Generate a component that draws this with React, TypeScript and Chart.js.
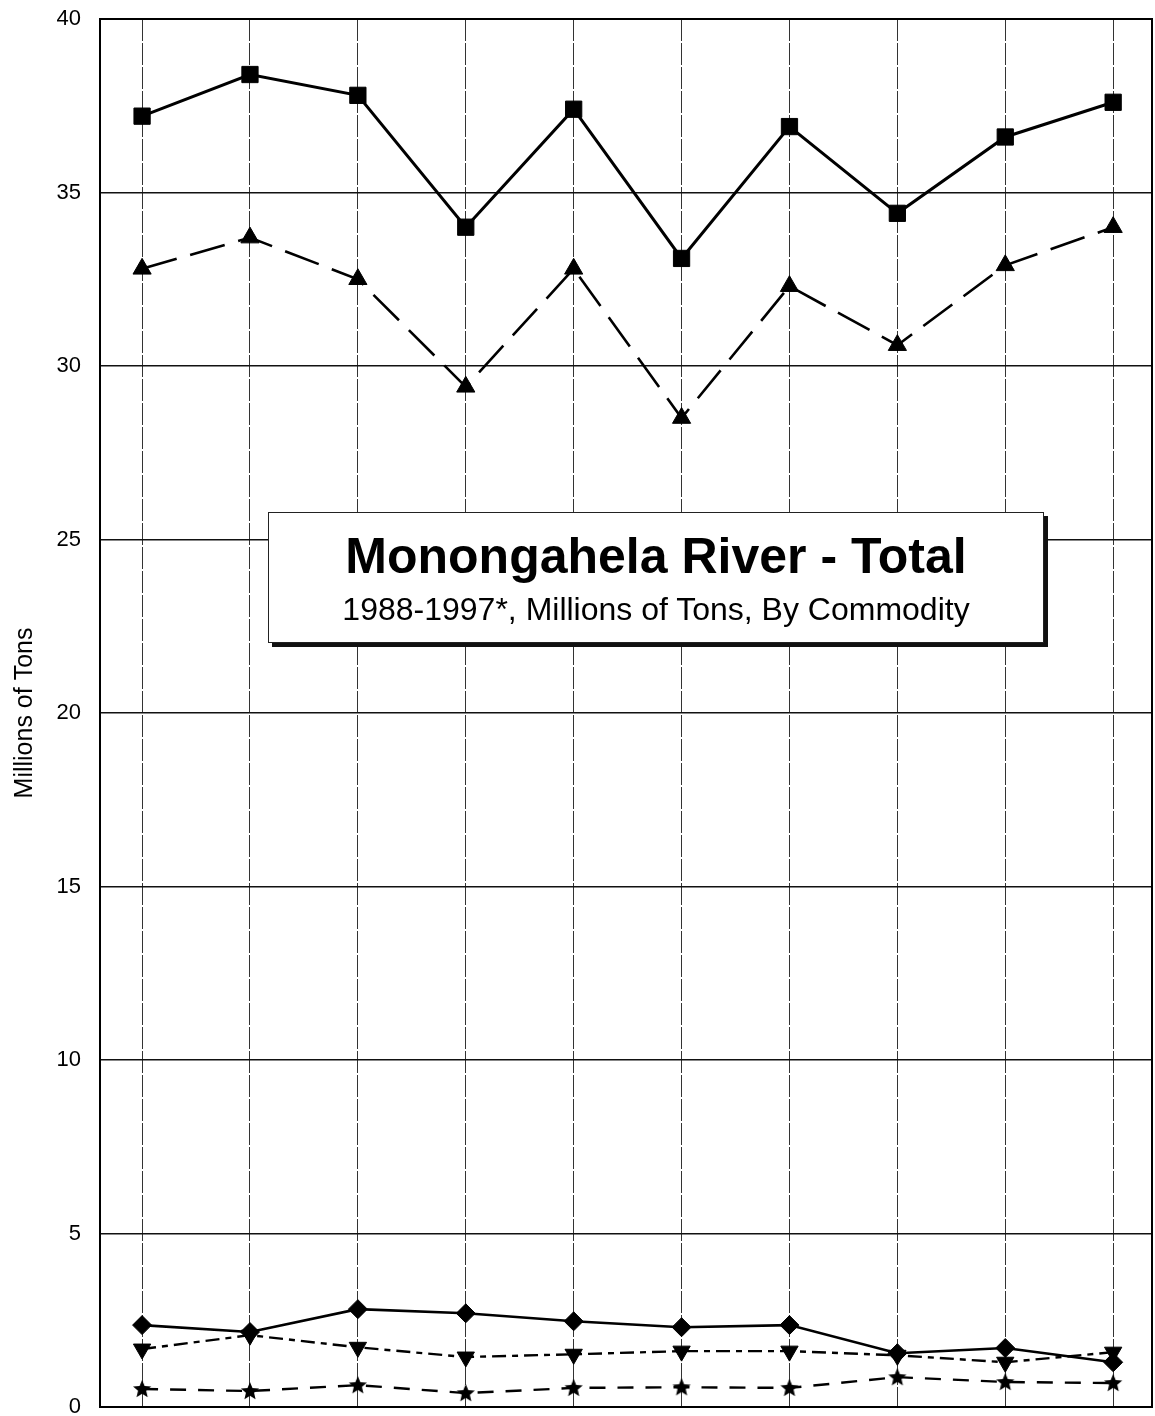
import React, { useEffect, useRef } from "react";
import { Chart, registerables } from "chart.js";

Chart.register(...registerables);

// ---- data ----
const years = [1988, 1989, 1990, 1991, 1992, 1993, 1994, 1995, 1996, 1997];
const totalTons = [37.2, 38.4, 37.8, 34.0, 37.4, 33.1, 36.9, 34.4, 36.6, 37.6];
const coalTons = [32.8, 33.7, 32.5, 29.4, 32.8, 28.5, 32.3, 30.6, 32.9, 34.0];
const commodityATons = [2.36, 2.16, 2.82, 2.7, 2.47, 2.3, 2.36, 1.55, 1.7, 1.29];
const commodityBTons = [1.67, 2.07, 1.72, 1.44, 1.52, 1.61, 1.61, 1.49, 1.29, 1.58];
const commodityCTons = [0.52, 0.46, 0.63, 0.4, 0.55, 0.57, 0.55, 0.86, 0.72, 0.69];
const yTickValues = [0, 5, 10, 15, 20, 25, 30, 35, 40];

const chartTitle = "Monongahela River - Total";
const chartSubtitle = "1988-1997*, Millions of Tons, By Commodity";
const yAxisTitle = "Millions of Tons";

const FONT = "'Liberation Sans', Arial, Helvetica, sans-serif";

function makeStar(size: number): HTMLCanvasElement {
  const c = document.createElement("canvas");
  c.width = size;
  c.height = size;
  const ctx = c.getContext("2d")!;
  const cx = size / 2;
  const cy = size / 2 + 0.5;
  const R = size / 2 - 0.5;
  const r = R * 0.45;
  ctx.beginPath();
  for (let i = 0; i < 10; i++) {
    const rad = i % 2 === 0 ? R : r;
    const a = -Math.PI / 2 + (i * Math.PI) / 5;
    const px = cx + rad * Math.cos(a);
    const py = cy + rad * Math.sin(a);
    if (i === 0) ctx.moveTo(px, py);
    else ctx.lineTo(px, py);
  }
  ctx.closePath();
  ctx.fillStyle = "#000";
  ctx.fill();
  return c;
}

const toPoints = (vals: number[]) => years.map((y, i) => ({ x: y, y: vals[i] }));

const framePlugin = {
  id: "frame",
  beforeDatasetsDraw(chart: any) {
    const { ctx, chartArea } = chart;
    ctx.save();
    ctx.strokeStyle = "#000";
    ctx.lineWidth = 2;
    ctx.strokeRect(chartArea.left, chartArea.top, chartArea.right - chartArea.left, chartArea.bottom - chartArea.top);
    ctx.restore();
  },
};

export default function App() {
  const canvasRef = useRef<HTMLCanvasElement | null>(null);

  useEffect(() => {
    document.body.style.margin = "0";
    const canvas = canvasRef.current;
    if (!canvas) return;
    const star = makeStar(20);
    const chart = new Chart(canvas, {
      type: "line",
      data: {
        datasets: [
          {
            label: "Total",
            data: toPoints(totalTons),
            borderColor: "#000",
            backgroundColor: "#000",
            borderWidth: 3,
            pointStyle: "rect",
            pointRadius: 11.5,
            pointBorderWidth: 1,
            pointBackgroundColor: "#000",
            pointBorderColor: "#000",
          },
          {
            label: "Coal",
            data: toPoints(coalTons),
            borderColor: "#000",
            backgroundColor: "#000",
            borderWidth: 2.6,
            borderDash: [36, 14],
            pointStyle: "triangle",
            pointRadius: 10.5,
            pointBorderWidth: 1,
            pointBackgroundColor: "#000",
            pointBorderColor: "#000",
          },
          {
            label: "Commodity A",
            data: toPoints(commodityATons),
            borderColor: "#000",
            backgroundColor: "#000",
            borderWidth: 2.6,
            pointStyle: "rectRot",
            pointRadius: 9.5,
            pointBorderWidth: 1,
            pointBackgroundColor: "#000",
            pointBorderColor: "#000",
          },
          {
            label: "Commodity B",
            data: toPoints(commodityBTons),
            borderColor: "#000",
            backgroundColor: "#000",
            borderWidth: 2.4,
            borderDash: [14, 6, 6, 6],
            pointStyle: "triangle",
            pointRotation: 180,
            pointRadius: 10,
            pointBorderWidth: 1,
            pointBackgroundColor: "#000",
            pointBorderColor: "#000",
          },
          {
            label: "Commodity C",
            data: toPoints(commodityCTons),
            borderColor: "#000",
            backgroundColor: "#000",
            borderWidth: 2.4,
            borderDash: [16, 12],
            pointStyle: star as any,
            pointRadius: 10,
          },
        ] as any,
      },
      options: {
        responsive: false,
        animation: false,
        devicePixelRatio: 1,
        layout: { autoPadding: false, padding: { top: 19, right: 3, bottom: 9, left: 0 } },
        plugins: {
          legend: { display: false },
          tooltip: { enabled: false },
          title: { display: false },
        },
        elements: { line: { tension: 0 } },
        scales: {
          x: {
            type: "linear",
            min: years[0] - 0.39,
            max: years[years.length - 1] + 0.36,
            afterBuildTicks: (axis: any) => {
              axis.ticks = years.map((v) => ({ value: v }));
            },
            afterFit: (s: any) => {
              s.height = 0;
              s.paddingLeft = 0;
              s.paddingRight = 0;
            },
            ticks: { display: false },
            grid: { color: "#333", lineWidth: 1, drawTicks: false },
            border: { display: false, dash: [22, 2] },
          },
          y: {
            type: "linear",
            min: 0,
            max: 40,
            afterBuildTicks: (axis: any) => {
              axis.ticks = yTickValues.map((v) => ({ value: v }));
            },
            afterFit: (s: any) => {
              s.width = 100;
              s.paddingTop = 0;
              s.paddingBottom = 0;
            },
            ticks: {
              color: "#000",
              font: { family: FONT, size: 22 },
              padding: 19,
            },
            grid: { color: "#111", lineWidth: 1.5, drawTicks: false },
            border: { display: false },
            title: {
              display: true,
              text: yAxisTitle,
              color: "#000",
              font: { family: FONT, size: 25 },
              padding: { top: 10, bottom: 0 },
            },
          },
        },
      } as any,
      plugins: [framePlugin],
    });
    return () => chart.destroy();
  }, []);

  return (
    <div style={{ position: "relative", width: 1155, height: 1416, background: "#fff" }}>
      <canvas ref={canvasRef} width={1155} height={1416} style={{ display: "block" }} />
      <div
        style={{
          position: "absolute",
          left: 268,
          top: 512,
          width: 776,
          height: 131,
          boxSizing: "border-box",
          border: "1.5px solid #222",
          background: "#fff",
          boxShadow: "4px 4px 0 #111",
          fontFamily: FONT,
          color: "#000",
          textAlign: "center",
        }}
      >
        <div style={{ fontSize: 50, fontWeight: "bold", lineHeight: "58px", marginTop: 14 }}>{chartTitle}</div>
        <div style={{ fontSize: 32, lineHeight: "38px", marginTop: 5 }}>{chartSubtitle}</div>
      </div>
    </div>
  );
}
